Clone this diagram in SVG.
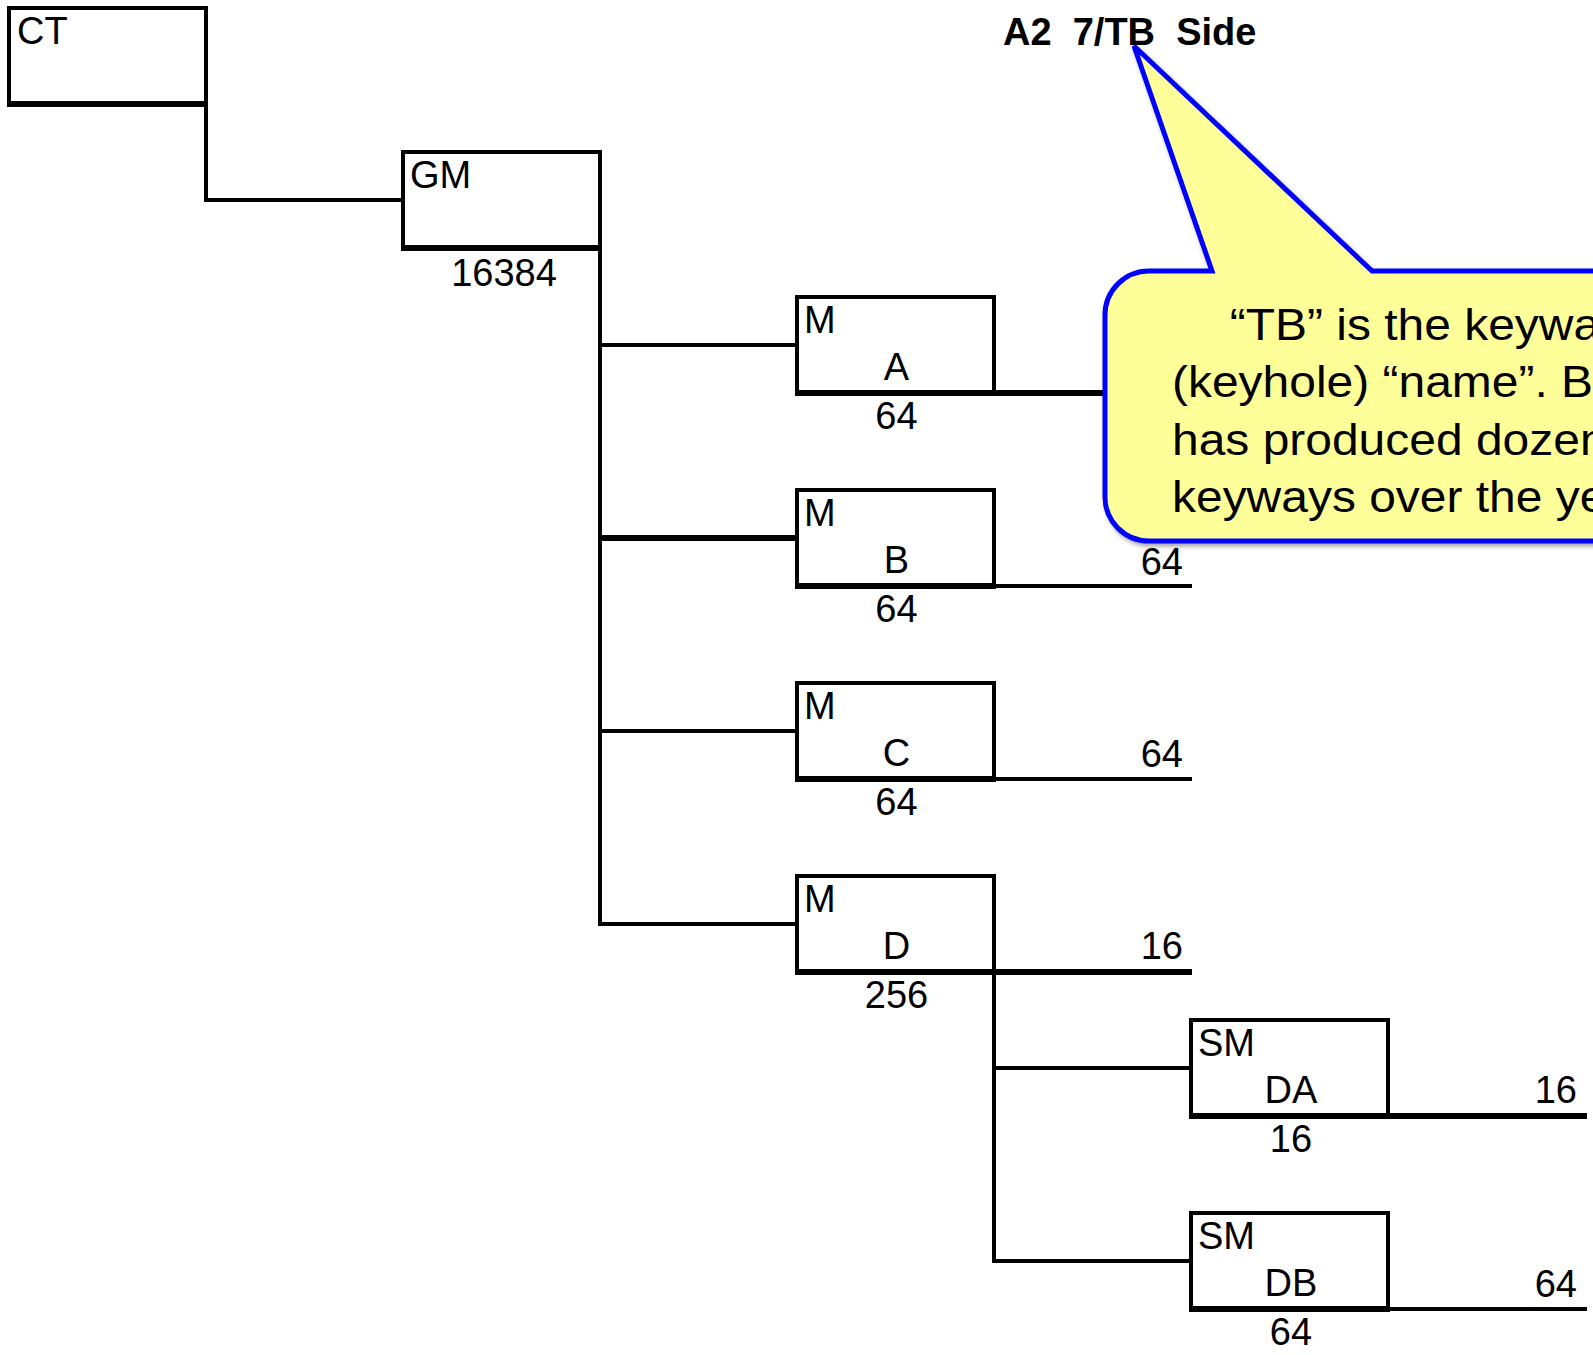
<svg xmlns="http://www.w3.org/2000/svg" width="1593" height="1355" viewBox="0 0 1593 1355">
<defs>
<style>
.box{fill:#fff;stroke:#000;stroke-width:4}
.base{stroke:#000;stroke-width:6;fill:none}
.conn{fill:none;stroke:#000;stroke-width:4;stroke-linejoin:miter}
.thick{stroke-width:6}
text{font-family:"Liberation Sans",Arial,sans-serif;fill:#000}
.lbl{font-size:38px}
.mid{text-anchor:middle}
.end{text-anchor:end}
.title{font-size:38px;font-weight:bold;white-space:pre}
.note{font-size:44px}
.callout{fill:#FFFF99;stroke:#0000FF;stroke-width:5;stroke-linejoin:miter}
</style>
<filter id="shadow" x="-10%" y="-10%" width="130%" height="130%">
<feDropShadow dx="2" dy="3" stdDeviation="2" flood-color="#000" flood-opacity="0.35"/>
</filter>
</defs>
<rect width="1593" height="1355" fill="#fff"/>

<g id="connectors">
<polyline class="conn" points="206,104 206,200 403,200"/>
<line class="conn" x1="600" y1="248" x2="600" y2="926"/>
<line class="conn" x1="600" y1="345" x2="797" y2="345"/>
<line class="conn thick" x1="600" y1="538" x2="797" y2="538"/>
<line class="conn" x1="600" y1="731" x2="797" y2="731"/>
<line class="conn" x1="600" y1="924" x2="797" y2="924"/>
<line class="conn" x1="994" y1="972" x2="994" y2="1263"/>
<line class="conn" x1="994" y1="1068" x2="1191" y2="1068"/>
<line class="conn" x1="994" y1="1261" x2="1191" y2="1261"/>
<line class="conn thick" x1="994" y1="393" x2="1192" y2="393"/>
<line class="conn" x1="994" y1="586" x2="1192" y2="586"/>
<line class="conn" x1="994" y1="779" x2="1192" y2="779"/>
<line class="conn thick" x1="994" y1="972" x2="1192" y2="972"/>
<line class="conn thick" x1="1388" y1="1116" x2="1587" y2="1116"/>
<line class="conn" x1="1388" y1="1309" x2="1587" y2="1309"/>
</g>

<g id="node-ct">
<rect class="box" x="9" y="8" width="197" height="96"/>
<line class="base" x1="7" y1="104" x2="208" y2="104"/>
<text class="lbl" x="17" y="44">CT</text>
</g>

<g id="node-gm">
<rect class="box" x="403" y="152" width="197" height="96"/>
<line class="base" x1="401" y1="248" x2="602" y2="248"/>
<text class="lbl" x="410" y="188">GM</text>
<text class="lbl mid" x="504" y="286">16384</text>
</g>

<g id="node-ma">
<rect class="box" x="797" y="297" width="197" height="96"/>
<line class="base" x1="795" y1="393" x2="996" y2="393"/>
<text class="lbl" x="804" y="333">M</text>
<text class="lbl mid" x="896.5" y="380">A</text>
<text class="lbl mid" x="896.5" y="429">64</text>
</g>

<g id="node-mb">
<rect class="box" x="797" y="490" width="197" height="96"/>
<line class="base" x1="795" y1="586" x2="996" y2="586"/>
<text class="lbl" x="804" y="526">M</text>
<text class="lbl mid" x="896.5" y="573">B</text>
<text class="lbl mid" x="896.5" y="622">64</text>
<text class="lbl end" x="1183" y="575">64</text>
</g>

<g id="node-mc">
<rect class="box" x="797" y="683" width="197" height="96"/>
<line class="base" x1="795" y1="779" x2="996" y2="779"/>
<text class="lbl" x="804" y="719">M</text>
<text class="lbl mid" x="896.5" y="766">C</text>
<text class="lbl mid" x="896.5" y="815">64</text>
<text class="lbl end" x="1183" y="767">64</text>
</g>

<g id="node-md">
<rect class="box" x="797" y="876" width="197" height="96"/>
<line class="base" x1="795" y1="972" x2="996" y2="972"/>
<text class="lbl" x="804" y="912">M</text>
<text class="lbl mid" x="896.5" y="959">D</text>
<text class="lbl mid" x="896.5" y="1008">256</text>
<text class="lbl end" x="1183" y="959">16</text>
</g>

<g id="node-da">
<rect class="box" x="1191" y="1020" width="197" height="96"/>
<line class="base" x1="1189" y1="1116" x2="1390" y2="1116"/>
<text class="lbl" x="1198" y="1056">SM</text>
<text class="lbl mid" x="1291" y="1103">DA</text>
<text class="lbl mid" x="1291" y="1152">16</text>
<text class="lbl end" x="1577" y="1103">16</text>
</g>

<g id="node-db">
<rect class="box" x="1191" y="1213" width="197" height="96"/>
<line class="base" x1="1189" y1="1309" x2="1390" y2="1309"/>
<text class="lbl" x="1198" y="1249">SM</text>
<text class="lbl mid" x="1291" y="1296">DB</text>
<text class="lbl mid" x="1291" y="1345">64</text>
<text class="lbl end" x="1577" y="1297">64</text>
</g>

<g id="title">
<text class="title" x="1003" y="45" xml:space="preserve">A2  7/TB  Side</text>
</g>

<g id="callout">
<path class="callout" filter="url(#shadow)" d="M1149,271 L1212,271 L1134,46 L1372,271 L1660,271 L1660,541 L1149,541 A44,44 0 0 1 1105,497 L1105,315 A44,44 0 0 1 1149,271 Z"/>
<g transform="translate(1172,0) scale(1.09,1)">
<text class="note" x="53" y="340">“TB” is the keywa</text>
<text class="note" x="0" y="397">(keyhole) “name”. B</text>
<text class="note" x="0" y="455">has produced dozen</text>
<text class="note" x="0" y="512">keyways over the ye</text>
</g>
</g>
</svg>
